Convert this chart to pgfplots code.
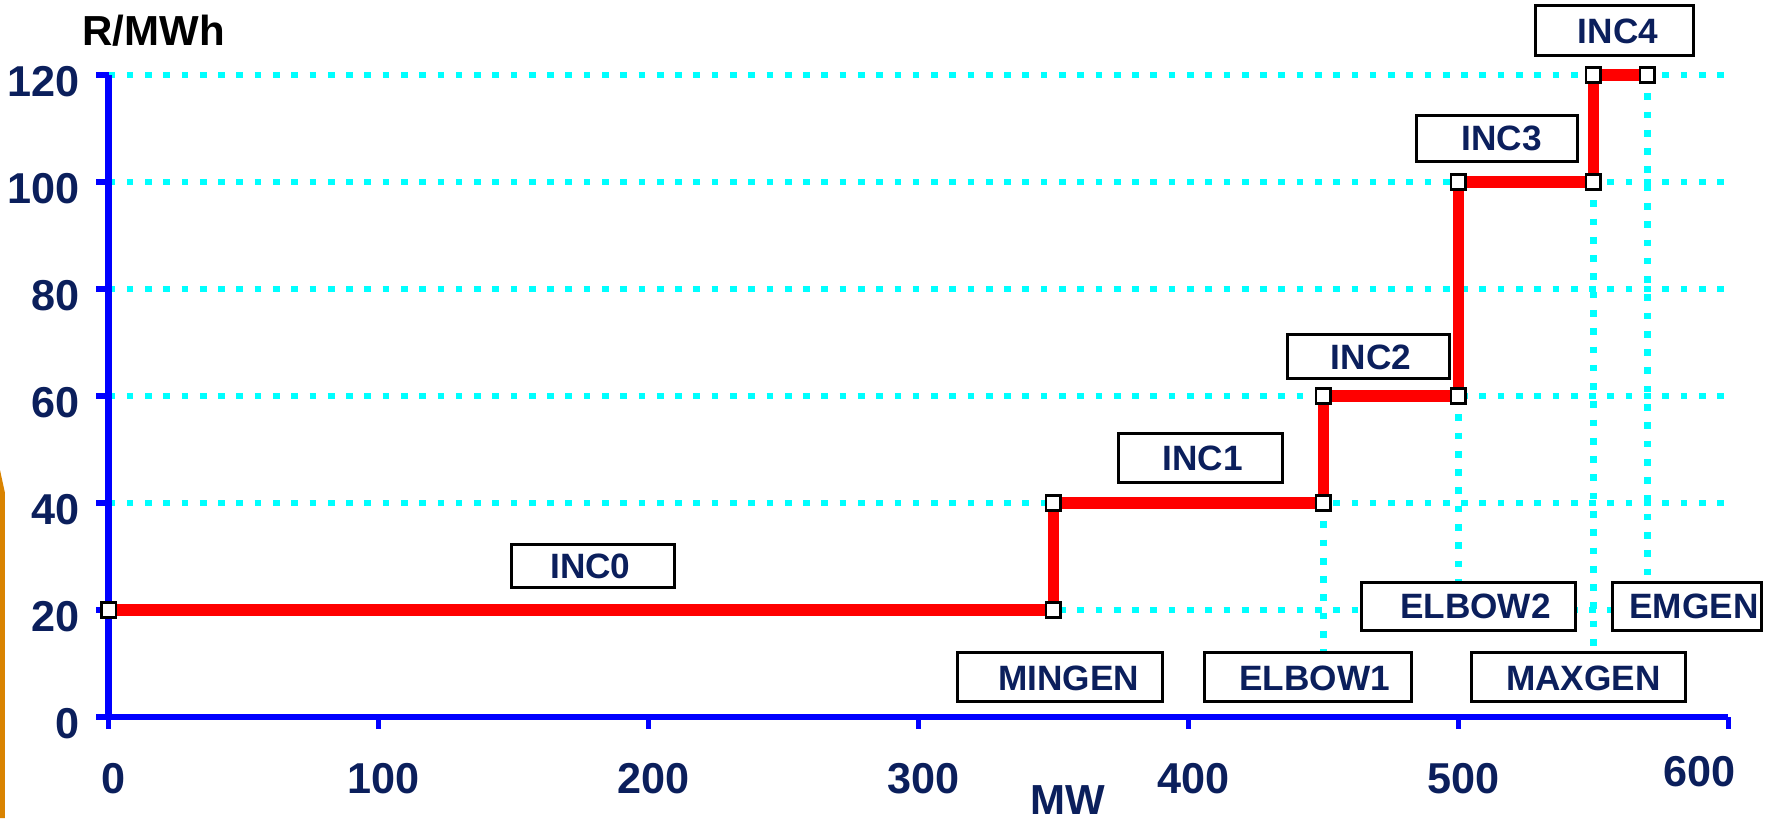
\documentclass[border=0pt]{standalone}
\usepackage{pgfplots}
\pgfplotsset{compat=1.18}
\usepackage{fontspec}
\setmainfont{Liberation Sans}
\definecolor{navy}{HTML}{0B1F5C}
\definecolor{gridcyan}{HTML}{00FFFF}
\definecolor{orng}{HTML}{D98300}
\newcommand{\lbox}[7]{%
  \draw[black, line width=0.75pt, fill=white] (axis cs:#1,#2) rectangle (axis cs:#3,#4);
  \node[boxlabel] at (axis cs:#5,#6) {#7};}
\tikzset{
  boxlabel/.style={font=\fontsize{8.8}{10}\selectfont\bfseries, text=navy, inner sep=0pt, text height=6.3pt, text depth=0pt, anchor=center},
  cyandots/.style={gridcyan, line width=1.67pt, dash pattern=on 1.67pt off 2.9pt, line cap=butt}
}
\begin{document}
\begin{tikzpicture}
\path[use as bounding box] (-27.125pt,-25.25pt) rectangle (415.625pt,179.25pt);
\fill[orng] (-27.125pt,61.75pt) -- (-25.875pt,56pt) -- (-25.875pt,-25.25pt) -- (-27.125pt,-25.25pt) -- cycle;
\begin{axis}[
  scale only axis, width=405pt, height=160.5pt,
  xmin=0, xmax=600, ymin=0, ymax=120,
  axis x line=bottom, axis y line=left,
  axis line style={-, blue, line width=1.55pt},
  xtick={0,100,...,600}, ytick={0,20,...,120},
  xticklabels={0,100,200,300,400,500,{\raisebox{1.65pt}{600}\hspace*{16.8pt}}},
  tick align=outside, major tick length=3pt,
  tick style={blue, line width=1.3pt},
  ymajorgrids,
  major grid style={cyandots},
  /pgf/number format/assume math mode=true,
  xticklabel style={font=\fontsize{10.8}{12}\selectfont\bfseries, text=navy, anchor=center, inner sep=0pt, text height=7.7pt, text depth=0pt, yshift=-12.2pt, xshift=1.25pt},
  yticklabel style={font=\fontsize{10.8}{12}\selectfont\bfseries, text=navy, anchor=east, inner sep=0pt, text height=7.7pt, text depth=0pt, xshift=-4.1pt, yshift=-1.5pt},
  clip=false,
]
\addplot[cyandots, forget plot] coordinates {(450,40) (450,12)};
\addplot[cyandots, forget plot] coordinates {(500,60) (500,25)};
\addplot[cyandots, forget plot] coordinates {(550,100) (550,12)};
\addplot[cyandots, forget plot] coordinates {(570,120) (570,25)};
\addplot[red, line width=2.8pt, mark=square*, mark size=1.85pt,
  mark options={fill=white, draw=black, line width=0.7pt, solid}]
  coordinates {(0,20) (350,20) (350,40) (450,40) (450,60) (500,60) (500,100) (550,100) (550,120) (570,120)};
\lbox{149.1}{24.24}{209.8}{32.26}{178.5}{28.3}{INC0}
\lbox{374.2}{43.87}{435.0}{52.9}{405.2}{48.4}{INC1}
\lbox{436.7}{63.29}{496.5}{71.53}{467.6}{67.4}{INC2}
\lbox{484.5}{103.9}{543.9}{112.5}{516.0}{108.2}{INC3}
\lbox{528.7}{123.7}{587.2}{132.9}{559.1}{128.2}{INC4}
\lbox{314.3}{2.99}{390.5}{12.09}{355.6}{7.4}{MINGEN}
\lbox{406.1}{2.99}{482.7}{12.09}{446.7}{7.4}{ELBOW1}
\lbox{505.0}{2.99}{583.9}{12.09}{546.3}{7.4}{MAXGEN}
\lbox{463.9}{16.13}{543.5}{25.23}{506.3}{20.7}{ELBOW2}
\lbox{557.2}{16.13}{612.4}{25.23}{587.2}{20.7}{EMGEN}
\node[font=\fontsize{10.5}{12}\selectfont\bfseries, text=black, anchor=base, inner sep=0pt] at (axis cs:16.7,125.6) {R/MWh};
\node[font=\fontsize{10.5}{12}\selectfont\bfseries, text=navy, anchor=base, inner sep=0pt] at (axis cs:355.4,-18.3) {MW};
\end{axis}
\end{tikzpicture}
\end{document}
